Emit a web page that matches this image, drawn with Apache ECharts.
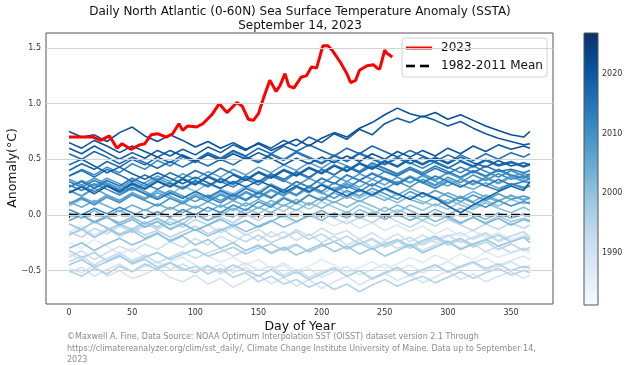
<!DOCTYPE html>
<html>
<head>
<meta charset="utf-8">
<script src="https://cdn.jsdelivr.net/npm/echarts@6/dist/echarts.min.js"></script>
<style>html,body{margin:0;padding:0;background:#fff}#c{width:630px;height:365px}</style>
</head>
<body>
<div id="c"></div>
<script>
// ---------- data ----------
const days = [0,10,20,30,40,50,60,70,80,90,100,110,120,130,140,150,160,170,180,190,200,210,220,230,240,250,260,270,280,290,300,310,320,330,340,350,360,365];
const years = [1982,1983,1984,1985,1986,1987,1988,1989,1990,1991,1992,1993,1994,1995,1996,1997,1998,1999,2000,2001,2002,2003,2004,2005,2006,2007,2008,2009,2010,2011,2012,2013,2014,2015,2016,2017,2018,2019,2020,2021,2022];

const y1982 = [-0.25,-0.30,-0.22,-0.28,-0.35,-0.30,-0.38,-0.33,-0.40,-0.36,-0.30,-0.37,-0.42,-0.38,-0.45,-0.40,-0.48,-0.43,-0.50,-0.46,-0.40,-0.45,-0.52,-0.47,-0.42,-0.48,-0.44,-0.38,-0.43,-0.36,-0.41,-0.35,-0.40,-0.33,-0.38,-0.34,-0.30,-0.35];
const y1983 = [-0.15,-0.10,-0.18,-0.12,-0.20,-0.14,-0.08,-0.13,-0.06,-0.11,-0.04,-0.09,-0.02,-0.08,0.00,-0.05,0.03,-0.03,-0.07,0.01,-0.04,-0.10,-0.05,-0.12,-0.07,-0.14,-0.09,-0.15,-0.10,-0.17,-0.12,-0.19,-0.14,-0.20,-0.16,-0.22,-0.18,-0.21];
const y1984 = [-0.35,-0.40,-0.33,-0.42,-0.37,-0.44,-0.39,-0.47,-0.42,-0.38,-0.45,-0.50,-0.44,-0.52,-0.47,-0.55,-0.49,-0.45,-0.53,-0.48,-0.56,-0.51,-0.46,-0.54,-0.49,-0.44,-0.50,-0.45,-0.52,-0.47,-0.42,-0.48,-0.43,-0.39,-0.45,-0.41,-0.37,-0.40];
const y1985 = [-0.48,-0.52,-0.45,-0.55,-0.50,-0.57,-0.53,-0.48,-0.56,-0.60,-0.54,-0.62,-0.57,-0.65,-0.59,-0.54,-0.62,-0.56,-0.64,-0.58,-0.66,-0.60,-0.55,-0.63,-0.57,-0.52,-0.59,-0.54,-0.61,-0.56,-0.50,-0.58,-0.53,-0.60,-0.55,-0.51,-0.57,-0.54];
const y1986 = [-0.52,-0.47,-0.55,-0.49,-0.44,-0.51,-0.46,-0.42,-0.49,-0.44,-0.50,-0.45,-0.53,-0.48,-0.43,-0.50,-0.46,-0.54,-0.49,-0.56,-0.51,-0.47,-0.55,-0.50,-0.58,-0.53,-0.48,-0.55,-0.50,-0.45,-0.52,-0.47,-0.43,-0.50,-0.46,-0.42,-0.48,-0.45];
const y1987 = [-0.38,-0.32,-0.40,-0.34,-0.28,-0.33,-0.26,-0.31,-0.24,-0.29,-0.21,-0.27,-0.19,-0.25,-0.17,-0.23,-0.15,-0.21,-0.13,-0.19,-0.12,-0.18,-0.14,-0.22,-0.16,-0.23,-0.17,-0.24,-0.18,-0.25,-0.19,-0.16,-0.22,-0.17,-0.24,-0.19,-0.15,-0.20];
const y1988 = [-0.18,-0.12,-0.20,-0.14,-0.09,-0.16,-0.10,-0.05,-0.12,-0.07,-0.14,-0.09,-0.16,-0.11,-0.18,-0.13,-0.20,-0.15,-0.23,-0.17,-0.25,-0.19,-0.27,-0.22,-0.29,-0.24,-0.30,-0.26,-0.32,-0.27,-0.23,-0.30,-0.26,-0.33,-0.28,-0.34,-0.30,-0.32];
const y1989 = [-0.42,-0.37,-0.45,-0.39,-0.34,-0.41,-0.36,-0.43,-0.38,-0.33,-0.39,-0.34,-0.30,-0.37,-0.32,-0.28,-0.35,-0.30,-0.26,-0.33,-0.28,-0.24,-0.31,-0.26,-0.22,-0.29,-0.24,-0.20,-0.27,-0.22,-0.18,-0.25,-0.20,-0.16,-0.23,-0.19,-0.15,-0.21];
const y1990 = [-0.15,-0.20,-0.12,-0.17,-0.10,-0.15,-0.08,-0.13,-0.06,-0.11,-0.04,-0.09,-0.02,-0.07,0.01,-0.05,0.03,-0.02,0.05,-0.01,0.04,-0.03,-0.08,-0.02,-0.07,0.00,-0.06,-0.11,-0.05,-0.10,-0.04,-0.09,-0.14,-0.08,-0.13,-0.07,-0.12,-0.09];
const y1991 = [-0.08,-0.13,-0.06,-0.11,-0.17,-0.12,-0.18,-0.14,-0.20,-0.15,-0.10,-0.17,-0.12,-0.19,-0.24,-0.18,-0.25,-0.20,-0.15,-0.22,-0.17,-0.24,-0.19,-0.26,-0.21,-0.28,-0.23,-0.30,-0.25,-0.20,-0.27,-0.22,-0.29,-0.24,-0.31,-0.26,-0.32,-0.29];
const y1992 = [-0.32,-0.38,-0.34,-0.41,-0.36,-0.44,-0.40,-0.47,-0.43,-0.50,-0.46,-0.53,-0.48,-0.56,-0.52,-0.60,-0.55,-0.62,-0.58,-0.65,-0.60,-0.67,-0.62,-0.69,-0.63,-0.58,-0.64,-0.59,-0.55,-0.61,-0.56,-0.51,-0.57,-0.52,-0.48,-0.54,-0.50,-0.52];
const y1993 = [-0.50,-0.55,-0.48,-0.53,-0.46,-0.51,-0.44,-0.49,-0.43,-0.48,-0.52,-0.46,-0.51,-0.45,-0.50,-0.55,-0.49,-0.56,-0.51,-0.58,-0.53,-0.48,-0.55,-0.50,-0.57,-0.52,-0.47,-0.54,-0.49,-0.45,-0.51,-0.46,-0.42,-0.48,-0.44,-0.50,-0.46,-0.48];
const y1994 = [-0.45,-0.40,-0.47,-0.42,-0.37,-0.43,-0.38,-0.34,-0.40,-0.35,-0.31,-0.37,-0.33,-0.29,-0.35,-0.30,-0.26,-0.32,-0.27,-0.33,-0.28,-0.24,-0.30,-0.25,-0.31,-0.26,-0.22,-0.28,-0.23,-0.19,-0.25,-0.21,-0.27,-0.22,-0.18,-0.24,-0.20,-0.22];
const y1995 = [-0.18,-0.13,-0.20,-0.14,-0.08,-0.13,-0.06,-0.11,-0.03,-0.08,0.00,-0.05,0.03,-0.02,0.06,0.01,0.08,0.03,0.11,0.05,0.12,0.07,0.02,0.09,0.04,-0.01,0.05,0.00,-0.05,0.02,-0.03,-0.08,-0.02,-0.07,-0.01,-0.06,-0.03,-0.05];
const y1996 = [-0.08,-0.13,-0.06,-0.12,-0.18,-0.14,-0.21,-0.16,-0.24,-0.19,-0.27,-0.22,-0.30,-0.25,-0.32,-0.27,-0.34,-0.29,-0.36,-0.31,-0.26,-0.33,-0.28,-0.35,-0.30,-0.37,-0.32,-0.27,-0.34,-0.29,-0.24,-0.31,-0.26,-0.22,-0.28,-0.24,-0.20,-0.25];
const y1997 = [-0.30,-0.25,-0.32,-0.26,-0.21,-0.27,-0.22,-0.17,-0.23,-0.18,-0.13,-0.19,-0.14,-0.09,-0.15,-0.10,-0.05,-0.11,-0.06,0.00,-0.05,0.02,-0.03,0.05,0.00,0.07,0.02,0.09,0.04,0.10,0.05,0.12,0.07,0.13,0.08,0.14,0.10,0.12];
const y1998 = [0.08,0.14,0.10,0.17,0.12,0.20,0.15,0.23,0.18,0.26,0.21,0.28,0.23,0.19,0.26,0.21,0.28,0.22,0.17,0.24,0.19,0.25,0.20,0.15,0.21,0.16,0.11,0.17,0.12,0.08,0.14,0.09,0.05,0.11,0.06,0.02,0.07,0.04];
const y1999 = [0.02,-0.03,0.04,-0.02,-0.07,-0.02,-0.08,-0.03,-0.09,-0.04,0.01,-0.05,0.00,0.06,0.01,0.07,0.02,0.09,0.04,0.11,0.06,0.12,0.07,0.13,0.08,0.03,0.09,0.04,-0.01,0.05,0.00,0.06,0.01,-0.04,0.02,-0.03,0.01,-0.01];
const y2000 = [-0.05,0.00,-0.07,-0.02,-0.09,-0.04,-0.11,-0.06,-0.13,-0.08,-0.14,-0.09,-0.04,-0.10,-0.05,-0.11,-0.06,0.00,-0.06,-0.01,0.04,-0.02,0.03,-0.03,0.02,-0.04,0.01,-0.05,0.00,-0.06,-0.01,-0.07,-0.02,-0.08,-0.03,-0.09,-0.04,-0.06];
const y2001 = [-0.05,0.00,-0.06,-0.01,0.04,-0.01,0.05,0.00,0.07,0.02,0.08,0.03,0.09,0.04,0.11,0.06,0.13,0.08,0.14,0.09,0.16,0.11,0.17,0.12,0.18,0.13,0.19,0.14,0.10,0.16,0.11,0.17,0.12,0.18,0.13,0.17,0.14,0.16];
const y2002 = [0.12,0.07,0.13,0.08,0.03,0.09,0.04,0.10,0.05,0.11,0.06,0.12,0.07,0.13,0.08,0.14,0.09,0.16,0.11,0.18,0.13,0.20,0.15,0.22,0.17,0.23,0.18,0.24,0.19,0.14,0.20,0.15,0.21,0.16,0.12,0.18,0.13,0.15];
const y2003 = [0.10,0.16,0.11,0.18,0.13,0.20,0.15,0.22,0.17,0.12,0.19,0.14,0.21,0.16,0.24,0.19,0.27,0.22,0.30,0.25,0.33,0.28,0.36,0.31,0.38,0.33,0.29,0.35,0.30,0.26,0.32,0.27,0.23,0.29,0.24,0.28,0.25,0.27];
const y2004 = [0.22,0.17,0.24,0.18,0.13,0.19,0.14,0.20,0.15,0.11,0.17,0.12,0.18,0.13,0.20,0.15,0.22,0.17,0.25,0.20,0.28,0.23,0.30,0.25,0.32,0.27,0.34,0.29,0.35,0.30,0.26,0.32,0.27,0.33,0.28,0.34,0.30,0.32];
const y2005 = [0.25,0.31,0.26,0.33,0.28,0.22,0.29,0.35,0.30,0.37,0.32,0.39,0.34,0.41,0.36,0.43,0.38,0.45,0.40,0.47,0.42,0.49,0.44,0.39,0.46,0.41,0.36,0.42,0.37,0.32,0.38,0.33,0.28,0.34,0.29,0.35,0.31,0.33];
const y2006 = [0.22,0.17,0.24,0.29,0.24,0.31,0.26,0.33,0.28,0.23,0.30,0.25,0.32,0.27,0.34,0.29,0.36,0.31,0.26,0.33,0.28,0.35,0.30,0.37,0.32,0.39,0.34,0.29,0.36,0.31,0.38,0.33,0.39,0.34,0.40,0.35,0.37,0.36];
const y2007 = [0.32,0.27,0.33,0.28,0.22,0.27,0.21,0.16,0.22,0.17,0.12,0.18,0.13,0.19,0.14,0.21,0.16,0.23,0.18,0.25,0.20,0.15,0.22,0.17,0.24,0.19,0.14,0.21,0.16,0.22,0.17,0.12,0.18,0.13,0.19,0.14,0.17,0.15];
const y2008 = [0.10,0.15,0.09,0.16,0.11,0.18,0.13,0.08,0.15,0.10,0.17,0.12,0.19,0.14,0.21,0.16,0.23,0.18,0.25,0.20,0.27,0.22,0.28,0.23,0.18,0.24,0.19,0.14,0.20,0.15,0.10,0.16,0.11,0.07,0.13,0.08,0.12,0.10];
const y2009 = [0.05,0.00,0.06,0.01,0.07,0.02,-0.03,0.03,-0.02,0.05,0.00,0.07,0.02,0.09,0.04,0.12,0.07,0.15,0.10,0.18,0.13,0.21,0.26,0.21,0.28,0.23,0.30,0.25,0.32,0.27,0.34,0.29,0.36,0.31,0.37,0.32,0.35,0.34];
const y2010 = [0.35,0.41,0.36,0.43,0.38,0.46,0.41,0.49,0.44,0.52,0.47,0.55,0.50,0.57,0.52,0.48,0.55,0.50,0.57,0.52,0.47,0.54,0.49,0.56,0.51,0.46,0.52,0.47,0.42,0.48,0.43,0.38,0.44,0.39,0.34,0.40,0.35,0.32];
const y2011 = [0.27,0.22,0.28,0.23,0.18,0.24,0.19,0.14,0.20,0.15,0.21,0.16,0.11,0.18,0.13,0.20,0.15,0.23,0.18,0.26,0.21,0.29,0.24,0.31,0.26,0.33,0.28,0.34,0.29,0.24,0.30,0.25,0.31,0.26,0.22,0.28,0.24,0.26];
const y2012 = [0.20,0.26,0.21,0.27,0.22,0.29,0.24,0.31,0.26,0.33,0.28,0.35,0.30,0.25,0.32,0.27,0.35,0.30,0.38,0.33,0.41,0.36,0.44,0.39,0.47,0.42,0.37,0.43,0.38,0.44,0.39,0.34,0.40,0.35,0.41,0.36,0.33,0.37];
const y2013 = [0.30,0.25,0.31,0.26,0.20,0.25,0.19,0.14,0.20,0.15,0.21,0.16,0.22,0.17,0.24,0.19,0.27,0.22,0.30,0.25,0.33,0.28,0.36,0.31,0.37,0.32,0.27,0.34,0.29,0.35,0.30,0.25,0.31,0.26,0.32,0.27,0.30,0.29];
const y2014 = [0.25,0.30,0.24,0.31,0.26,0.33,0.28,0.23,0.29,0.24,0.31,0.26,0.33,0.28,0.35,0.30,0.37,0.32,0.39,0.34,0.41,0.36,0.43,0.38,0.44,0.39,0.35,0.41,0.36,0.42,0.37,0.43,0.38,0.44,0.39,0.41,0.38,0.40];
const y2015 = [0.35,0.40,0.34,0.41,0.36,0.30,0.36,0.31,0.38,0.33,0.40,0.35,0.42,0.37,0.32,0.39,0.34,0.41,0.36,0.43,0.38,0.45,0.40,0.47,0.42,0.49,0.44,0.51,0.46,0.52,0.47,0.54,0.49,0.55,0.50,0.56,0.52,0.55];
const y2016 = [0.55,0.50,0.57,0.52,0.46,0.52,0.47,0.42,0.48,0.43,0.49,0.44,0.50,0.45,0.52,0.47,0.54,0.49,0.56,0.51,0.46,0.53,0.48,0.55,0.50,0.45,0.51,0.46,0.52,0.47,0.42,0.48,0.43,0.49,0.44,0.47,0.43,0.45];
const y2017 = [0.40,0.46,0.41,0.48,0.43,0.50,0.45,0.52,0.47,0.54,0.49,0.56,0.51,0.58,0.53,0.60,0.55,0.62,0.57,0.63,0.58,0.53,0.60,0.55,0.62,0.57,0.52,0.58,0.53,0.48,0.54,0.49,0.44,0.50,0.45,0.48,0.44,0.46];
const y2018 = [0.45,0.50,0.44,0.38,0.43,0.37,0.32,0.38,0.33,0.28,0.34,0.29,0.24,0.30,0.25,0.31,0.26,0.20,0.26,0.21,0.27,0.22,0.17,0.23,0.18,0.24,0.19,0.14,0.20,0.15,0.08,0.02,0.09,0.15,0.21,0.26,0.22,0.30];
const y2019 = [0.20,0.25,0.19,0.26,0.21,0.28,0.23,0.30,0.25,0.32,0.27,0.34,0.29,0.36,0.31,0.38,0.33,0.40,0.35,0.42,0.37,0.44,0.39,0.46,0.41,0.48,0.43,0.50,0.45,0.51,0.46,0.52,0.47,0.43,0.49,0.44,0.47,0.45];
const y2020 = [0.60,0.55,0.62,0.56,0.50,0.56,0.51,0.58,0.53,0.59,0.54,0.61,0.56,0.63,0.58,0.65,0.60,0.67,0.62,0.70,0.65,0.73,0.68,0.77,0.72,0.82,0.87,0.83,0.89,0.85,0.80,0.84,0.78,0.73,0.69,0.66,0.63,0.64];
const y2021 = [0.65,0.60,0.67,0.62,0.56,0.62,0.57,0.52,0.58,0.53,0.48,0.54,0.49,0.55,0.50,0.56,0.51,0.45,0.51,0.46,0.52,0.47,0.53,0.48,0.55,0.50,0.57,0.52,0.58,0.53,0.60,0.55,0.62,0.57,0.63,0.59,0.62,0.60];
const y2022 = [0.75,0.70,0.72,0.66,0.74,0.79,0.71,0.66,0.72,0.67,0.61,0.66,0.60,0.65,0.59,0.64,0.58,0.63,0.68,0.62,0.69,0.74,0.70,0.78,0.83,0.90,0.96,0.91,0.88,0.92,0.86,0.90,0.85,0.80,0.76,0.72,0.70,0.75];

const yearValues = [y1982,y1983,y1984,y1985,y1986,y1987,y1988,y1989,y1990,y1991,y1992,y1993,y1994,y1995,y1996,y1997,y1998,y1999,y2000,y2001,y2002,y2003,y2004,y2005,y2006,y2007,y2008,y2009,y2010,y2011,y2012,y2013,y2014,y2015,y2016,y2017,y2018,y2019,y2020,y2021,y2022];

const days2023 = [0,10,19,25,32,38,42,49,56,60,65,70,77,82,87,90,94,101,106,113,119,125,133,137,142,146,150,154,159,164,167,171,174,178,184,188,192,196,201,205,209,215,220,223,227,230,236,241,244,246,250,252,256];
const vals2023 = [0.70,0.70,0.70,0.67,0.71,0.60,0.64,0.59,0.63,0.64,0.72,0.73,0.70,0.73,0.82,0.76,0.80,0.79,0.82,0.90,1.00,0.92,1.01,0.98,0.86,0.85,0.91,1.05,1.21,1.11,1.16,1.27,1.16,1.14,1.24,1.25,1.33,1.32,1.52,1.52,1.47,1.37,1.27,1.19,1.21,1.30,1.34,1.35,1.32,1.31,1.48,1.45,1.42];

const meanDays = [0,365];
const meanVals = [0,0];

const xTicks = [0,50,100,150,200,250,300,350];
const yTicks = [-0.5,0,0.5,1.0,1.5];
const cbTicks = [1990,2000,2010,2020];
const cbRange = [1981.2,2026.9];
const legendLabels = ['2023','1982-2011 Mean'];

// ---------- styling helpers ----------
const BLUES = ['#f7fbff','#deebf7','#c6dbef','#9ecae1','#6baed6','#4292c6','#2171b5','#08519c','#08306b'];
function hex2rgb(h){return [parseInt(h.slice(1,3),16),parseInt(h.slice(3,5),16),parseInt(h.slice(5,7),16)];}
function blues(t){
  t=Math.max(0,Math.min(1,t));
  const p=t*8, i=Math.min(7,Math.floor(p)), f=p-i;
  const a=hex2rgb(BLUES[i]), b=hex2rgb(BLUES[i+1]);
  const c=a.map((v,k)=>Math.round(v+(b[k]-v)*f));
  return 'rgb('+c.join(',')+')';
}
function yearColor(yr){
  const f=(yr-years[0])/(years[years.length-1]-years[0]);
  return blues(0.12+0.76*f);
}
const FONT='DejaVu Sans';

const series = [];
series.push({
  type:'line', data:[], z:1, silent:true,
  markLine:{silent:true, symbol:'none', label:{show:false},
    lineStyle:{color:'#d3d3d3', width:1, type:'solid'},
    data: yTicks.map(v=>({yAxis:v}))}
});
years.forEach((yr,k)=>{
  const vals=yearValues[k];
  series.push({
    name:String(yr), type:'line', symbol:'none', z:2, silent:true,
    lineStyle:{width:1.6, color:yearColor(yr)},
    data: days.map((d,i)=>[d, vals[i]]).filter(p=>p[1]!==undefined)
  });
});
series.push({
  name:legendLabels[1], type:'line', symbol:'none', z:3, silent:true,
  lineStyle:{width:2.6, color:'#000', type:[9,4]},
  data: meanDays.map((d,i)=>[d, meanVals[i]])
});
series.push({
  name:legendLabels[0], type:'line', symbol:'none', z:4, silent:true,
  lineStyle:{width:3, color:'#ff0000'},
  data: days2023.map((d,i)=>[d, vals2023[i]])
});
series.push({
  type:'custom', xAxisIndex:1, yAxisIndex:1, silent:true,
  encode:{x:[0,2], y:[1,3]},
  data:[[0,cbRange[0],1,cbRange[1]]],
  renderItem:function(params, api){
    const p0=api.coord([api.value(0), api.value(1)]);
    const p1=api.coord([api.value(2), api.value(3)]);
    return {type:'rect', shape:{x:p0[0], y:p1[1], width:p1[0]-p0[0], height:p0[1]-p1[1]},
      style:{fill:new echarts.graphic.LinearGradient(0,1,0,0, BLUES.map((c,i)=>({offset:i/8,color:c}))),
             stroke:'#555', lineWidth:1}};
  }
});

const chart = echarts.init(document.getElementById('c'), null, {renderer:'canvas'});
chart.setOption({
  animation:false,
  backgroundColor:'#fff',
  textStyle:{fontFamily:FONT},
  grid:[
    {left:46, top:33, width:507, height:271, show:true, borderColor:'#555', borderWidth:1, backgroundColor:'transparent'},
    {left:584, top:33, width:14, height:272, show:false}
  ],
  xAxis:[
    {type:'value', gridIndex:0, min:-18.25, max:383.25,
     axisLine:{show:false}, splitLine:{show:false},
     axisTick:{show:true, length:3, lineStyle:{color:'#333'}, customValues:xTicks},
     axisLabel:{customValues:xTicks, fontSize:8, color:'#333', margin:5, fontFamily:FONT}},
    {type:'value', gridIndex:1, min:0, max:1, show:false}
  ],
  yAxis:[
    {type:'value', gridIndex:0, min:-0.8, max:1.635,
     axisLine:{show:false}, splitLine:{show:false},
     axisTick:{show:true, length:3, lineStyle:{color:'#333'}, customValues:yTicks},
     axisLabel:{customValues:yTicks, fontSize:8, color:'#333', margin:5, fontFamily:FONT,
       formatter:v=>v.toFixed(1).replace('-','\u2212')}},
    {type:'value', gridIndex:1, min:cbRange[0], max:cbRange[1], position:'right',
     axisLine:{show:false}, splitLine:{show:false},
     axisTick:{show:true, length:3, lineStyle:{color:'#333'}, customValues:cbTicks},
     axisLabel:{customValues:cbTicks, fontSize:8, color:'#333', margin:4, fontFamily:FONT,
       formatter:v=>String(Math.round(v))}}
  ],
  graphic:[
    {type:'text', x:300, y:12, style:{text:'Daily North Atlantic (0-60N) Sea Surface Temperature Anomaly (SSTA)', font:'12px '+FONT, fill:'#111', align:'center', verticalAlign:'middle'}},
    {type:'text', x:300, y:25.5, style:{text:'September 14, 2023', font:'12px '+FONT, fill:'#111', align:'center', verticalAlign:'middle'}},
    {type:'text', x:300, y:327, style:{text:'Day of Year', font:'12.5px '+FONT, fill:'#111', align:'center', verticalAlign:'middle'}},
    {type:'text', x:13, y:168, rotation:Math.PI/2, style:{text:'Anomaly(°C)', font:'12.5px '+FONT, fill:'#111', align:'center', verticalAlign:'middle'}},
    {type:'text', x:67, y:337, style:{text:'©Maxwell A. Fine, Data Source: NOAA Optimum Interpolation SST (OISST) dataset version 2.1 Through', font:'8px '+FONT, fill:'#8c8c8c', align:'left', verticalAlign:'middle'}},
    {type:'text', x:67, y:348.5, style:{text:'https://climatereanalyzer.org/clim/sst_daily/, Climate Change Institute University of Maine. Data up to September 14,', font:'8px '+FONT, fill:'#8c8c8c', align:'left', verticalAlign:'middle'}},
    {type:'text', x:67, y:360, style:{text:'2023', font:'8px '+FONT, fill:'#8c8c8c', align:'left', verticalAlign:'middle'}},
    {type:'group', z:100, children:[
      {type:'rect', shape:{x:402, y:38, width:145, height:39, r:3}, style:{fill:'rgba(255,255,255,0.85)', stroke:'#d0d0d0', lineWidth:1}},
      {type:'rect', shape:{x:406, y:46.5, width:26, height:3}, style:{fill:'#ff0000'}},
      {type:'rect', shape:{x:406, y:64.7, width:9, height:2.6}, style:{fill:'#000000'}},
      {type:'rect', shape:{x:420, y:64.7, width:9, height:2.6}, style:{fill:'#000000'}},
      {type:'text', x:441, y:48, style:{text:legendLabels[0], font:'12px '+FONT, fill:'#111', align:'left', verticalAlign:'middle'}},
      {type:'text', x:441, y:66, style:{text:legendLabels[1], font:'12px '+FONT, fill:'#111', align:'left', verticalAlign:'middle'}}
    ]}
  ],
  series: series
});
</script>
</body>
</html>
